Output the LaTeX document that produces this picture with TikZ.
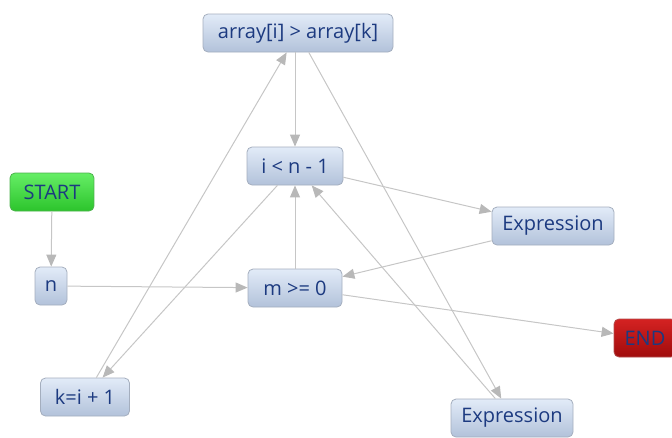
\documentclass[tikz,border=0pt]{standalone}
\usepackage{fontspec}
\setmainfont{Open Sans}
\usetikzlibrary{arrows.meta}

\definecolor{boxtop}{HTML}{E2EBF8}
\definecolor{boxbot}{HTML}{B2C2DA}
\definecolor{boxline}{HTML}{A4AEBE}
\definecolor{boxtext}{HTML}{1C3A80}
\definecolor{edgecol}{HTML}{C6C6C6}
\definecolor{tipcol}{HTML}{B8B8B8}
\definecolor{gotop}{HTML}{66EE66}
\definecolor{gobot}{HTML}{2CC42C}
\definecolor{stoptop}{HTML}{D42222}
\definecolor{stopbot}{HTML}{A00C0C}

\tikzset{
  box/.style={rounded corners=5pt, draw=boxline, line width=0.8pt,
    top color=boxtop, bottom color=boxbot, text=boxtext,
    inner sep=0pt, minimum height=38pt, font=\fontsize{20}{22}\selectfont},
  startbox/.style={box, top color=gotop, bottom color=gobot, draw=green!40!gray},
  endbox/.style={box, top color=stoptop, bottom color=stopbot, draw=red!40!gray},
  flow/.style={draw=edgecol, line width=1pt,
    -{Triangle[length=12pt,width=10pt,fill=tipcol,color=tipcol]}},
}

\begin{document}
\begin{tikzpicture}[x=1pt,y=-1pt]
  \useasboundingbox (0,0) rectangle (672,437);

  \node[box, minimum width=190pt] (arr) at (298,33) {array[i] > array[k]};
  \node[box, minimum width=96pt]  (cond) at (295,166) {i < n - 1};
  \node[startbox, minimum width=84pt] (start) at (52,192) {START};
  \node[box, minimum width=32pt]  (n) at (51,286) {n};
  \node[box, minimum width=94pt]  (m) at (295,288) {m >= 0};
  \node[box, minimum width=122pt] (ex1) at (553,226) {Expression};
  \node[endbox, minimum width=62pt] (end) at (645,338) {END};
  \node[box, minimum width=89pt]  (k) at (85,397) {k=i + 1};
  \node[box, minimum width=122pt] (ex2) at (512,418) {Expression};

  \draw[flow] (start) -- (n);
  \draw[flow] (n) -- (m);
  \draw[flow] (m) -- (cond);
  \draw[flow] (cond) -- (ex1);
  \draw[flow] (ex1) -- (m);
  \draw[flow] (m) -- (end);
  \draw[flow] (cond) -- (k);
  \draw[flow] (k) -- (arr);
  \draw[flow] (arr.south -| cond.north) -- (cond.north);
  \draw[flow] (arr) -- (ex2);
  \draw[flow] (ex2) -- (cond);
\end{tikzpicture}
\end{document}
